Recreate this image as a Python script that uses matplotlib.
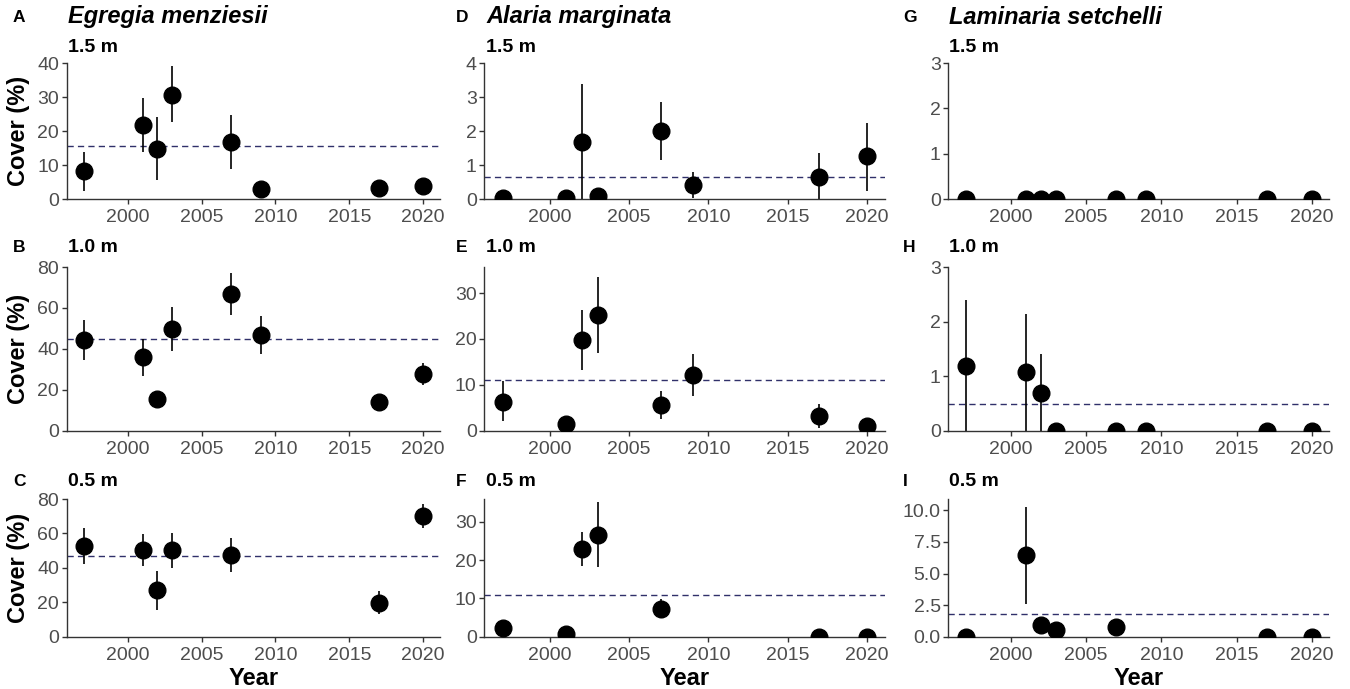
import numpy as np
import matplotlib

matplotlib.use("Agg")
import matplotlib.pyplot as plt  # noqa: E402

plt.rcParams["font.family"] = ["Liberation Sans", "DejaVu Sans"]

W, H = 1350, 689
nan = np.nan

years = [1997, 2001, 2002, 2003, 2007, 2009, 2017, 2020]

# Egregia menziesii
egr_15 = [8.2, 21.8, 14.7, 30.6, 16.9, 2.9, 3.3, 3.9]
egr_15_lo = [2.4, 13.7, 5.6, 22.5, 8.7, 2.9, 3.3, 3.9]
egr_15_hi = [13.7, 29.7, 24.0, 39.0, 24.7, 2.9, 3.3, 3.9]
egr_10 = [44.5, 35.8, 15.3, 49.6, 67.0, 47.0, 14.0, 27.6]
egr_10_lo = [34.5, 26.7, 11.7, 38.9, 56.4, 37.4, 14.0, 22.3]
egr_10_hi = [54.3, 45.0, 18.2, 60.5, 77.2, 56.1, 14.0, 33.2]
egr_05 = [52.9, 50.6, 27.0, 50.2, 47.3, nan, 19.7, 69.9]
egr_05_lo = [42.5, 40.9, 15.8, 40.2, 37.3, nan, 12.9, 62.9]
egr_05_hi = [63.1, 59.8, 38.0, 60.2, 57.5, nan, 26.4, 77.2]

# Alaria marginata
ala_15 = [0.02, 0.02, 1.69, 0.10, 2.00, 0.41, 0.66, 1.27]
ala_15_lo = [0.02, 0.02, 0.0, 0.10, 1.15, 0.02, 0.0, 0.25]
ala_15_hi = [0.02, 0.02, 3.38, 0.10, 2.85, 0.80, 1.35, 2.25]
ala_10 = [6.3, 1.45, 19.8, 25.3, 5.6, 12.2, 3.3, 1.0]
ala_10_lo = [2.1, 0.7, 13.3, 16.9, 2.5, 7.65, 0.65, 1.0]
ala_10_hi = [10.9, 2.2, 26.4, 33.5, 8.7, 16.7, 5.8, 1.0]
ala_05 = [2.2, 0.6, 22.9, 26.5, 7.3, nan, 0.05, 0.05]
ala_05_lo = [2.2, 0.6, 18.4, 18.1, 4.8, nan, 0.05, 0.05]
ala_05_hi = [2.2, 0.6, 27.4, 35.2, 9.8, nan, 0.05, 0.05]

# Laminaria setchelli
lam_15 = [0.0, 0.0, 0.0, 0.0, 0.0, 0.0, 0.0, 0.0]
lam_15_lo = [0.0, 0.0, 0.0, 0.0, 0.0, 0.0, 0.0, 0.0]
lam_15_hi = [0.0, 0.0, 0.0, 0.0, 0.0, 0.0, 0.0, 0.0]
lam_10 = [1.18, 1.07, 0.70, 0.0, 0.0, 0.0, 0.0, 0.0]
lam_10_lo = [0.0, 0.0, 0.0, 0.0, 0.0, 0.0, 0.0, 0.0]
lam_10_hi = [2.40, 2.13, 1.40, 0.0, 0.0, 0.0, 0.0, 0.0]
lam_05 = [0.0, 6.45, 0.9, 0.5, 0.75, nan, 0.0, 0.0]
lam_05_lo = [0.0, 2.6, 0.9, 0.5, 0.75, nan, 0.0, 0.0]
lam_05_hi = [0.0, 10.25, 0.9, 0.5, 0.75, nan, 0.0, 0.0]

# long-term means (dashed lines)
grand_means = {
    "A": 15.7, "B": 44.7, "C": 46.9,
    "D": 0.66, "E": 11.0, "F": 10.9,
    "G": 0.0, "H": 0.49, "I": 1.79,
}

species = ["Egregia menziesii", "Alaria marginata", "Laminaria setchelli"]
depths = ["1.5 m", "1.0 m", "0.5 m"]

panels = [
    # letter, mean, lo, hi, ylim top, yticks, tick labels
    ("A", egr_15, egr_15_lo, egr_15_hi, 40, [0, 10, 20, 30, 40], None),
    ("B", egr_10, egr_10_lo, egr_10_hi, 80, [0, 20, 40, 60, 80], None),
    ("C", egr_05, egr_05_lo, egr_05_hi, 80, [0, 20, 40, 60, 80], None),
    ("D", ala_15, ala_15_lo, ala_15_hi, 4, [0, 1, 2, 3, 4], None),
    ("E", ala_10, ala_10_lo, ala_10_hi, 35.7, [0, 10, 20, 30], None),
    ("F", ala_05, ala_05_lo, ala_05_hi, 36.0, [0, 10, 20, 30], None),
    ("G", lam_15, lam_15_lo, lam_15_hi, 3, [0, 1, 2, 3], None),
    ("H", lam_10, lam_10_lo, lam_10_hi, 3, [0, 1, 2, 3], None),
    ("I", lam_05, lam_05_lo, lam_05_hi, 10.9, [0, 2.5, 5, 7.5, 10],
     ["0.0", "2.5", "5.0", "7.5", "10.0"]),
]

# pixel boxes (left, right) per column and (top, bottom) per row
col_x = [(66.7, 440.0), (484.3, 885.0), (948.3, 1329.3)]
row_y = [(63.0, 199.0), (267.0, 430.7), (499.0, 636.7)]
letter_x = [13, 456, 903]
title_x = [68, 486, 949]
row_label_y = [47, 248, 482]

fig = plt.figure(figsize=(W / 100, H / 100), dpi=100)

x0, x1 = min(years), max(years)
pad = 0.05 * (x1 - x0)

for k, (letter, m, lo, hi, ytop, yt, ytl) in enumerate(panels):
    col, row = divmod(k, 3)
    l, r = col_x[col]
    t, b = row_y[row]
    ax = fig.add_axes([l / W, 1 - b / H, (r - l) / W, (b - t) / H])

    # a zero mean sits under the axis line and is hidden there
    if grand_means[letter] > 0:
        ax.axhline(grand_means[letter], color="#30306a", lw=1.0,
                   ls=(0, (4.5, 3)), zorder=1)
    ax.vlines(years, lo, hi, color="black", lw=1.2, zorder=2)
    ax.plot(years, m, "o", ms=12, color="black", zorder=3)

    ax.set_xlim(x0 - pad, x1 + pad)
    ax.set_ylim(0, ytop)
    ax.set_xticks([2000, 2005, 2010, 2015, 2020])
    ax.set_yticks(yt)
    if ytl:
        ax.set_yticklabels(ytl)
    for s in ["top", "right"]:
        ax.spines[s].set_visible(False)
    for s in ["left", "bottom"]:
        ax.spines[s].set_color("#333333")
        ax.spines[s].set_linewidth(1.0)
    ax.tick_params(colors="#333333", labelcolor="#4d4d4d", labelsize=14,
                   length=3.5, width=1.0)
    ax.tick_params(axis="x", pad=4)
    ax.tick_params(axis="y", pad=2)

    if col == 0:
        ax.set_ylabel("Cover (%)", fontsize=17, fontweight="bold",
                      labelpad=5)
    if row == 2:
        ax.set_xlabel("Year", fontsize=17, fontweight="bold", labelpad=2)

    # panel letter and titles
    ly = 17 if row == 0 else row_label_y[row]
    fig.text(letter_x[col] / W, 1 - ly / H, letter, fontsize=12.5,
             fontweight="bold", va="center", ha="left")
    if row == 0:
        fig.text(title_x[col] / W, 1 - 17 / H, species[col], fontsize=17,
                 fontweight="bold", fontstyle="italic", va="center", ha="left")
    fig.text(title_x[col] / W, 1 - row_label_y[row] / H, depths[row],
             fontsize=14, fontweight="bold", va="center", ha="left")

fig.savefig("out.png", dpi=100, facecolor="white")
